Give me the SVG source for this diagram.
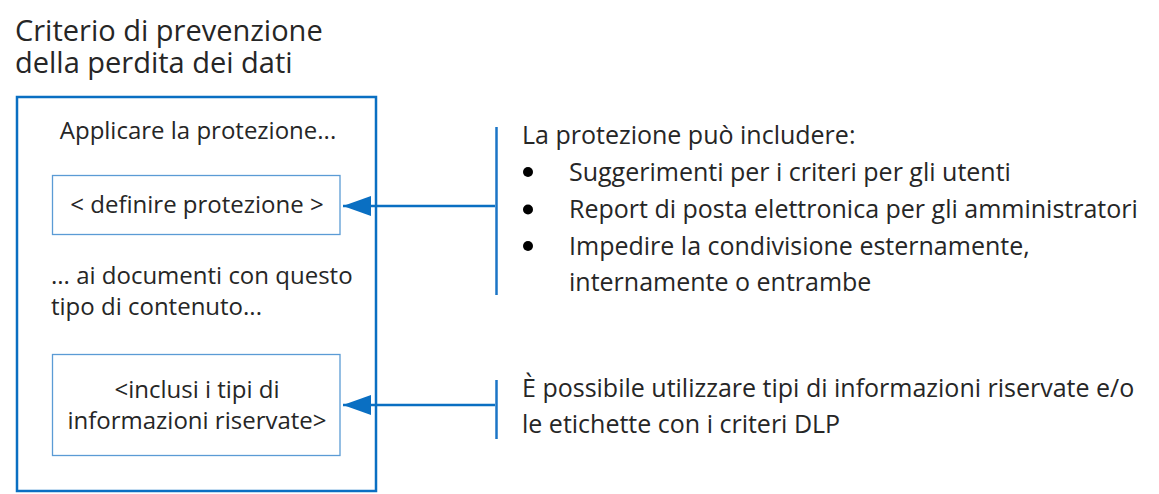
<svg xmlns="http://www.w3.org/2000/svg" width="1159" height="494" viewBox="0 0 1159 494">
<style>
text{font-family:"Open Sans","Noto Sans",sans-serif;fill:#262626;font-size:25px}
.title{font-size:29px}
.l{font-size:24px}
.outer{fill:#fff;stroke:#0a6fc2;stroke-width:2.5}
.inner{fill:#fff;stroke:#5b9bd5;stroke-width:1.3}
.conn{stroke:#0a6fc2;stroke-width:2.5;fill:none}
.bar{stroke:#1b75c6;stroke-width:2.5}
.c{text-anchor:middle}
</style>
<defs>
<marker id="ah" markerUnits="userSpaceOnUse" markerWidth="30" markerHeight="20" refX="28" refY="10" orient="auto">
<path d="M0,0 L28,10 L0,20 Z" fill="#0a6fc2"/>
</marker>
</defs>
<g id="title">
<text class="title" x="15" y="41">Criterio di prevenzione</text>
<text class="title" x="15" y="72.5">della perdita dei dati</text>
</g>
<g id="policy">
<rect class="outer" x="17" y="97" width="359" height="394"/>
<text class="l c" x="198" y="139">Applicare la protezione...</text>
<text class="l" x="51" y="284">... ai documenti con questo</text>
<text class="l" x="51" y="315">tipo di contenuto...</text>
</g>
<g id="protect">
<rect class="inner" x="52.5" y="175.5" width="287.5" height="59"/>
<text class="l c" x="197" y="213">&lt; definire protezione &gt;</text>
</g>
<g id="types">
<rect class="inner" x="52.5" y="354.5" width="287.5" height="101"/>
<text class="l c" x="197" y="398">&lt;inclusi i tipi di</text>
<text class="l c" x="197" y="429">informazioni riservate&gt;</text>
</g>
<g id="note1">
<line class="bar" x1="496.5" y1="127" x2="496.5" y2="295"/>
<text x="522" y="144">La protezione può includere:</text>
<circle cx="528" cy="172" r="5" fill="#000"/>
<circle cx="528" cy="209.5" r="5" fill="#000"/>
<circle cx="528" cy="246" r="5" fill="#000"/>
<text x="569" y="181">Suggerimenti per i criteri per gli utenti</text>
<text x="569" y="218">Report di posta elettronica per gli amministratori</text>
<text x="569" y="255">Impedire la condivisione esternamente,</text>
<text x="569" y="291">internamente o entrambe</text>
</g>
<g id="note2">
<line class="bar" x1="496.5" y1="380" x2="496.5" y2="439"/>
<text x="522" y="397">È possibile utilizzare tipi di informazioni riservate e/o</text>
<text x="522" y="433">le etichette con i criteri DLP</text>
</g>
<g id="connectors">
<line class="conn" x1="495" y1="206" x2="343" y2="206" marker-end="url(#ah)"/>
<line class="conn" x1="495" y1="405" x2="343" y2="405" marker-end="url(#ah)"/>
</g>
</svg>
